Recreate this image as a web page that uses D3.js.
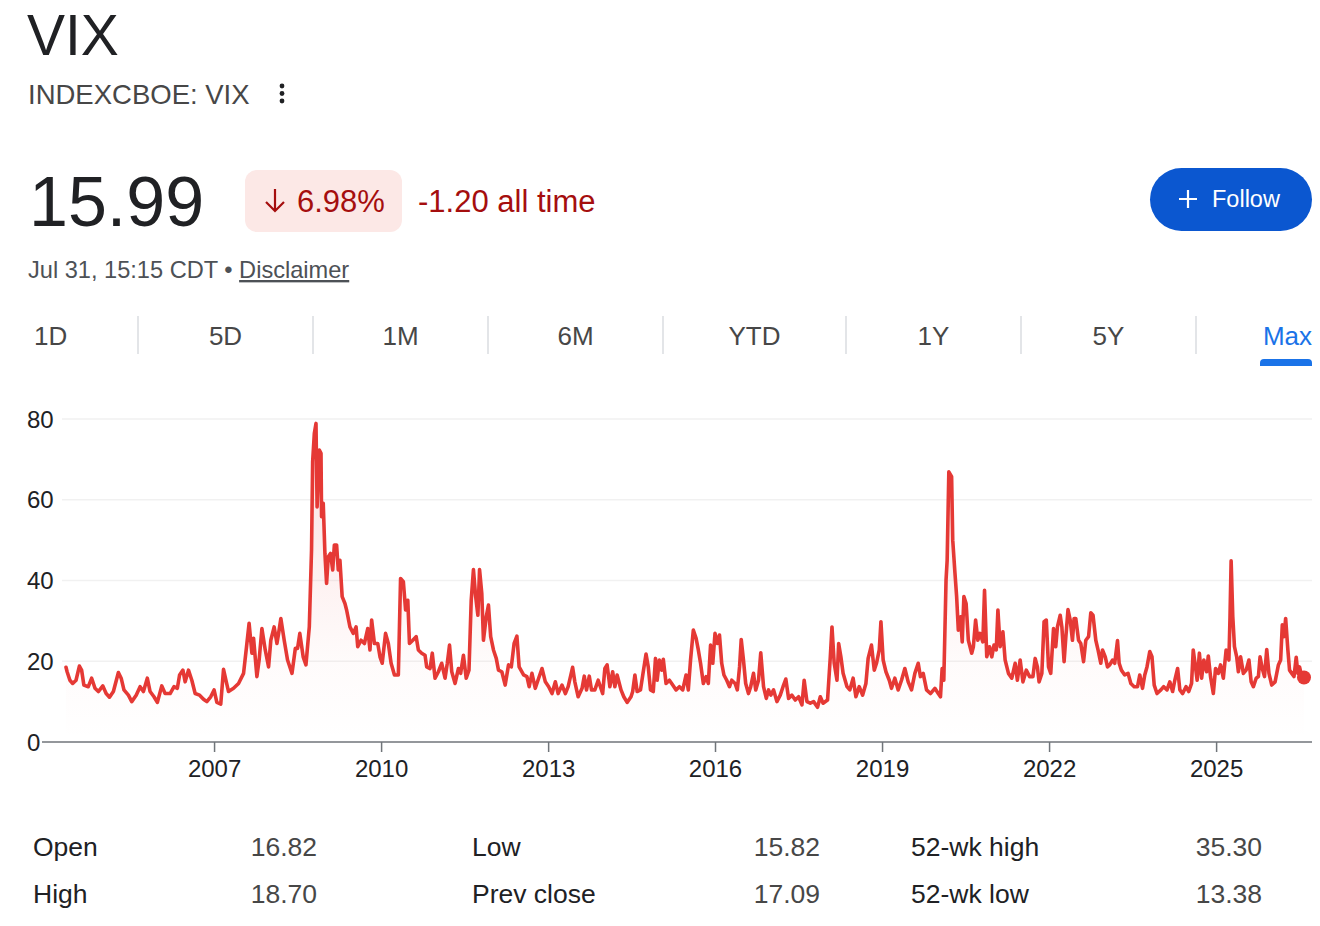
<!DOCTYPE html>
<html>
<head>
<meta charset="utf-8">
<script src="https://cdn.jsdelivr.net/npm/d3@7"></script>
<style>
  body { margin: 0; background: #fff; }
  svg { display: block; font-family: "Liberation Sans", Arial, sans-serif; }
</style>
</head>
<body>
<svg width="1320" height="926"></svg>
<script>
// weekly VIX closes (decimal year, value)
const years = [
  2004.34, 2004.36, 2004.41, 2004.46, 2004.52, 2004.58, 2004.62, 2004.66, 2004.74, 2004.80,
  2004.86, 2004.92, 2005.00, 2005.06, 2005.12, 2005.19, 2005.28, 2005.33, 2005.38, 2005.46,
  2005.52, 2005.60, 2005.67, 2005.73, 2005.80, 2005.85, 2005.92, 2005.98, 2006.06, 2006.12,
  2006.21, 2006.28, 2006.34, 2006.38, 2006.44, 2006.48, 2006.54, 2006.60, 2006.66, 2006.74,
  2006.81, 2006.87, 2006.94, 2007.00, 2007.05, 2007.12, 2007.17, 2007.22, 2007.26, 2007.35,
  2007.44, 2007.53, 2007.59, 2007.63, 2007.68, 2007.71, 2007.77, 2007.81, 2007.86, 2007.92,
  2007.98, 2008.02, 2008.08, 2008.13, 2008.16, 2008.20, 2008.26, 2008.32, 2008.40, 2008.46,
  2008.50, 2008.54, 2008.60, 2008.65, 2008.71, 2008.75, 2008.77, 2008.80, 2008.83, 2008.85,
  2008.89, 2008.92, 2008.93, 2008.96, 2008.99, 2009.02, 2009.05, 2009.09, 2009.13, 2009.16,
  2009.20, 2009.23, 2009.26, 2009.30, 2009.35, 2009.38, 2009.44, 2009.50, 2009.55, 2009.58,
  2009.64, 2009.70, 2009.76, 2009.80, 2009.83, 2009.88, 2009.94, 2009.98, 2010.02, 2010.08,
  2010.13, 2010.18, 2010.24, 2010.31, 2010.35, 2010.40, 2010.44, 2010.48, 2010.51, 2010.57,
  2010.63, 2010.67, 2010.73, 2010.79, 2010.82, 2010.88, 2010.92, 2010.97, 2011.03, 2011.09,
  2011.15, 2011.19, 2011.23, 2011.27, 2011.33, 2011.39, 2011.43, 2011.48, 2011.53, 2011.58,
  2011.62, 2011.66, 2011.70, 2011.74, 2011.77, 2011.81, 2011.84, 2011.89, 2011.93, 2011.97,
  2012.02, 2012.07, 2012.11, 2012.17, 2012.23, 2012.29, 2012.34, 2012.39, 2012.44, 2012.48,
  2012.56, 2012.62, 2012.66, 2012.71, 2012.77, 2012.83, 2012.89, 2012.95, 2013.01, 2013.07,
  2013.13, 2013.18, 2013.25, 2013.31, 2013.36, 2013.44, 2013.48, 2013.54, 2013.61, 2013.65,
  2013.69, 2013.74, 2013.78, 2013.84, 2013.90, 2013.98, 2014.02, 2014.06, 2014.11, 2014.16,
  2014.20, 2014.24, 2014.31, 2014.36, 2014.42, 2014.49, 2014.52, 2014.56, 2014.60, 2014.66,
  2014.71, 2014.76, 2014.80, 2014.84, 2014.89, 2014.93, 2014.96, 2015.00, 2015.04, 2015.07,
  2015.12, 2015.18, 2015.24, 2015.30, 2015.36, 2015.42, 2015.48, 2015.52, 2015.56, 2015.61,
  2015.66, 2015.70, 2015.74, 2015.79, 2015.84, 2015.88, 2015.92, 2015.96, 2016.00, 2016.04,
  2016.08, 2016.12, 2016.16, 2016.21, 2016.26, 2016.30, 2016.36, 2016.40, 2016.44, 2016.47,
  2016.51, 2016.55, 2016.60, 2016.64, 2016.69, 2016.73, 2016.78, 2016.82, 2016.87, 2016.92,
  2016.96, 2017.00, 2017.05, 2017.11, 2017.17, 2017.22, 2017.27, 2017.32, 2017.38, 2017.44,
  2017.50, 2017.56, 2017.60, 2017.65, 2017.71, 2017.77, 2017.84, 2017.89, 2017.94, 2018.02,
  2018.07, 2018.10, 2018.14, 2018.19, 2018.22, 2018.26, 2018.30, 2018.37, 2018.42, 2018.48,
  2018.53, 2018.59, 2018.65, 2018.71, 2018.75, 2018.81, 2018.86, 2018.90, 2018.95, 2018.98,
  2019.02, 2019.07, 2019.13, 2019.17, 2019.23, 2019.29, 2019.35, 2019.41, 2019.47, 2019.53,
  2019.59, 2019.65, 2019.69, 2019.74, 2019.80, 2019.87, 2019.95, 2020.01, 2020.05, 2020.08,
  2020.11, 2020.15, 2020.17, 2020.20, 2020.25, 2020.27, 2020.31, 2020.34, 2020.37, 2020.41,
  2020.44, 2020.47, 2020.51, 2020.55, 2020.61, 2020.64, 2020.68, 2020.72, 2020.76, 2020.81,
  2020.84, 2020.88, 2020.93, 2020.97, 2021.01, 2021.05, 2021.08, 2021.12, 2021.17, 2021.21,
  2021.27, 2021.33, 2021.39, 2021.43, 2021.48, 2021.53, 2021.59, 2021.65, 2021.71, 2021.75,
  2021.79, 2021.82, 2021.87, 2021.91, 2021.95, 2021.99, 2022.03, 2022.08, 2022.12, 2022.15,
  2022.20, 2022.23, 2022.27, 2022.30, 2022.34, 2022.38, 2022.42, 2022.45, 2022.48, 2022.53,
  2022.57, 2022.62, 2022.66, 2022.71, 2022.75, 2022.79, 2022.84, 2022.88, 2022.93, 2022.96,
  2023.01, 2023.05, 2023.09, 2023.14, 2023.18, 2023.23, 2023.26, 2023.30, 2023.36, 2023.42,
  2023.47, 2023.53, 2023.59, 2023.63, 2023.68, 2023.72, 2023.76, 2023.81, 2023.85, 2023.89,
  2023.94, 2024.01, 2024.06, 2024.12, 2024.17, 2024.22, 2024.26, 2024.31, 2024.35, 2024.40,
  2024.46, 2024.51, 2024.56, 2024.59, 2024.63, 2024.66, 2024.70, 2024.74, 2024.78, 2024.83,
  2024.86, 2024.90, 2024.95, 2024.99, 2025.04, 2025.08, 2025.13, 2025.18, 2025.23, 2025.25,
  2025.27, 2025.30, 2025.33, 2025.37, 2025.40, 2025.44, 2025.49, 2025.54, 2025.59, 2025.63,
  2025.67, 2025.72, 2025.76, 2025.79, 2025.83, 2025.87, 2025.91, 2025.95, 2026.00, 2026.06,
  2026.12, 2026.16, 2026.19, 2026.22, 2026.25, 2026.29, 2026.32, 2026.36, 2026.40, 2026.44,
  2026.47, 2026.50, 2026.54, 2026.58
];
const vix = [
  18.5, 17.4, 15.3, 14.5, 15.3, 18.8, 17.8, 14.1, 13.7, 15.8,
  13.3, 12.5, 13.9, 12.0, 11.1, 12.5, 17.2, 15.8, 12.9, 11.6,
  10.0, 11.6, 13.7, 12.5, 15.8, 12.5, 11.2, 9.8, 13.9, 12.0,
  12.0, 13.7, 13.3, 16.6, 17.8, 14.9, 17.8, 15.3, 12.0, 11.6,
  10.6, 10.0, 11.2, 12.9, 9.8, 9.4, 18.0, 14.9, 12.5, 13.3,
  14.5, 17.0, 24.4, 29.4, 22.0, 25.7, 16.2, 20.3, 28.1, 22.8,
  18.6, 25.2, 28.5, 24.4, 26.9, 30.6, 25.2, 20.3, 17.0, 23.2,
  23.2, 26.9, 21.1, 19.1, 28.5, 47.5, 69.4, 76.4, 78.9, 58.2,
  72.3, 71.5, 55.8, 59.1, 46.7, 39.3, 45.9, 46.7, 42.6, 48.8,
  48.8, 42.6, 45.0, 36.0, 34.3, 32.7, 28.5, 26.9, 28.5, 23.6,
  25.2, 24.4, 28.1, 22.8, 30.2, 24.4, 24.4, 21.1, 19.5, 26.9,
  24.4, 19.5, 16.6, 16.6, 40.5, 39.7, 32.7, 35.1, 24.4, 25.2,
  26.1, 22.8, 22.0, 21.5, 18.6, 18.2, 22.0, 15.8, 17.4, 19.5,
  15.8, 19.5, 24.0, 17.4, 14.5, 18.2, 17.0, 21.5, 15.8, 17.8,
  35.1, 42.7, 36.0, 31.4, 42.7, 36.8, 25.2, 31.0, 33.9, 26.1,
  22.8, 20.7, 17.8, 17.4, 14.1, 19.1, 18.6, 24.4, 26.2, 18.6,
  16.6, 16.2, 13.7, 17.0, 13.3, 15.8, 18.2, 14.9, 13.7, 12.0,
  14.9, 12.0, 14.1, 12.0, 13.7, 18.5, 14.9, 11.2, 13.3, 16.3,
  12.9, 16.3, 12.9, 12.9, 15.3, 12.0, 18.2, 19.1, 13.7, 17.4,
  13.7, 16.6, 12.9, 11.2, 9.8, 11.2, 12.5, 16.6, 12.5, 12.9,
  17.4, 21.8, 18.6, 12.9, 12.5, 20.7, 15.3, 20.3, 17.8, 20.5,
  14.5, 15.3, 14.1, 12.9, 13.7, 12.9, 16.6, 12.9, 20.3, 27.7,
  25.7, 22.8, 19.5, 14.5, 16.2, 14.5, 24.0, 19.5, 26.9, 24.4,
  26.5, 19.5, 16.6, 15.3, 13.7, 15.3, 14.5, 12.9, 18.6, 25.4,
  20.3, 14.5, 12.0, 13.7, 17.0, 12.9, 15.3, 22.1, 13.7, 10.8,
  12.9, 11.6, 12.9, 10.0, 11.6, 13.7, 15.6, 10.8, 11.6, 10.4,
  11.2, 9.2, 15.3, 10.0, 9.6, 10.0, 8.6, 11.2, 9.6, 10.4,
  21.1, 28.5, 19.5, 15.3, 24.4, 21.1, 17.0, 13.7, 12.9, 15.8,
  11.2, 13.7, 11.6, 14.5, 20.7, 24.0, 17.8, 19.5, 22.8, 29.8,
  20.3, 17.4, 15.3, 13.3, 15.8, 12.9, 15.3, 18.2, 14.9, 12.9,
  17.0, 19.5, 16.2, 17.0, 12.9, 12.0, 13.3, 12.0, 11.2, 18.2,
  15.3, 40.1, 45.0, 66.9, 65.7, 50.0, 41.8, 36.0, 27.7, 31.0,
  24.8, 36.0, 34.3, 25.2, 22.0, 23.6, 30.2, 25.2, 26.9, 24.8,
  37.6, 21.1, 23.6, 21.1, 24.0, 22.8, 32.7, 23.6, 27.3, 20.3,
  17.0, 15.8, 19.5, 15.3, 20.3, 14.9, 17.8, 16.2, 16.2, 20.7,
  18.6, 14.9, 17.0, 29.8, 30.2, 18.6, 17.0, 28.1, 23.6, 28.5,
  31.4, 28.5, 19.9, 25.7, 32.8, 30.2, 25.2, 30.6, 30.6, 25.2,
  24.4, 19.9, 25.2, 26.1, 32.0, 31.4, 25.2, 22.8, 19.5, 22.8,
  21.1, 18.6, 19.1, 20.3, 19.5, 25.1, 19.5, 17.8, 16.6, 17.0,
  14.5, 13.7, 13.7, 16.6, 13.3, 16.6, 18.6, 22.4, 21.1, 14.1,
  12.0, 12.9, 13.7, 12.9, 14.9, 12.5, 15.3, 18.2, 12.9, 12.0,
  13.7, 12.5, 14.5, 22.8, 18.6, 15.3, 22.0, 15.8, 20.3, 17.4,
  21.3, 16.2, 12.0, 18.2, 17.0, 19.1, 15.8, 22.8, 20.3, 31.0,
  44.9, 31.0, 23.6, 21.1, 17.4, 21.1, 17.0, 17.8, 20.3, 14.9,
  13.7, 15.8, 16.2, 21.1, 18.2, 16.2, 22.9, 17.0, 14.1, 14.9,
  19.1, 20.3, 29.0, 26.1, 30.6, 22.8, 17.8, 17.0, 16.2, 21.0,
  17.0, 18.6, 16.2, 15.99
];
const yTicks = [0, 20, 40, 60, 80];
const xTickYears = [2007, 2010, 2013, 2016, 2019, 2022, 2025];
const ranges = ["1D", "5D", "1M", "6M", "YTD", "1Y", "5Y", "Max"];
const statLabels = [["Open", "High"], ["Low", "Prev close"], ["52-wk high", "52-wk low"]];
const statValues = [["16.82", "18.70"], ["15.82", "17.09"], ["35.30", "13.38"]];
const price = "15.99";
const changePct = "6.98%";
const changeAll = "-1.20 all time";

const svg = d3.select("svg");
const red = "#e53935";
const darkRed = "#a50e0e";

function decToDate(y) {
    const yr = Math.floor(y);
    const a = new Date(yr, 0, 1), b = new Date(yr + 1, 0, 1);
    return new Date(+a + (y - yr) * (b - a));
}

const data = years.map((t, i) => ({ date: decToDate(t), v: vix[i] }));

// ---- header
svg.append("text").attr("x", 27).attr("y", 55)
    .attr("font-size", 57).attr("fill", "#202124").text("VIX");

svg.append("text").attr("x", 28).attr("y", 104)
    .attr("font-size", 27.5).attr("fill", "#474747").text("INDEXCBOE: VIX");

svg.selectAll(".dot").data([86, 93.5, 101]).join("circle")
    .attr("cx", 282).attr("cy", d => d).attr("r", 2.4).attr("fill", "#202124");

svg.append("text").attr("x", 29).attr("y", 226)
    .attr("font-size", 70).attr("fill", "#202124").text(price);

svg.append("rect").attr("x", 245).attr("y", 170).attr("width", 157).attr("height", 62)
    .attr("rx", 12).attr("fill", "#fce8e6");
svg.append("path").attr("d", "M275,189V211M266,202L275,211L284,202")
    .attr("fill", "none").attr("stroke", darkRed).attr("stroke-width", 2.2);
svg.append("text").attr("x", 297).attr("y", 212)
    .attr("font-size", 31).attr("fill", darkRed).text(changePct);
svg.append("text").attr("x", 418).attr("y", 212)
    .attr("font-size", 31).attr("fill", darkRed).text(changeAll);

svg.append("rect").attr("x", 1150).attr("y", 168).attr("width", 162).attr("height", 63)
    .attr("rx", 31.5).attr("fill", "#0b57d0");
svg.append("path").attr("d", "M1188,190V208M1179,199H1197")
    .attr("stroke", "#fff").attr("stroke-width", 2.2);
svg.append("text").attr("x", 1212).attr("y", 207)
    .attr("font-size", 23.5).attr("fill", "#fff").text("Follow");

const stamp = svg.append("text").attr("x", 28).attr("y", 278)
    .attr("font-size", 23.6).attr("fill", "#4d5156");
stamp.append("tspan").text("Jul 31, 15:15 CDT • ");
stamp.append("tspan").attr("text-decoration", "underline").text("Disclaimer");

// ---- range tabs
const seps = [138, 313, 488, 663, 846, 1021, 1196];
svg.selectAll(".sep").data(seps).join("line")
    .attr("x1", d => d).attr("x2", d => d).attr("y1", 316).attr("y2", 354)
    .attr("stroke", "#dadce0").attr("stroke-width", 1.5);
const edges = [28].concat(seps, [1312]);
svg.selectAll(".tab").data(ranges).join("text")
    .attr("x", (d, i) => i === 0 ? 34 : i === ranges.length - 1 ? 1312 : (edges[i] + edges[i + 1]) / 2)
    .attr("y", 345)
    .attr("text-anchor", (d, i) => i === 0 ? "start" : i === ranges.length - 1 ? "end" : "middle")
    .attr("font-size", 26)
    .attr("fill", (d, i) => i === ranges.length - 1 ? "#1a73e8" : "#474747")
    .text(d => d);
svg.append("path").attr("d", "M1260,366V363Q1260,359 1264,359H1308Q1312,359 1312,363V366Z")
    .attr("fill", "#1a73e8");

// ---- chart
const x = d3.scaleTime()
    .domain([decToDate(2004.34), decToDate(2026.58)])
    .range([66, 1304]);
const y = d3.scaleLinear().domain([0, 80]).range([742, 419]);

const grid = svg.append("g");
grid.selectAll("line").data(yTicks.filter(d => d > 0)).join("line")
    .attr("x1", 62).attr("x2", 1312)
    .attr("y1", d => y(d)).attr("y2", d => y(d))
    .attr("stroke", "#f1f1f1").attr("stroke-width", 1.5);
svg.append("g").selectAll("text").data(yTicks).join("text")
    .attr("x", 27).attr("y", d => y(d)).attr("dy", "0.36em")
    .attr("font-size", 24).attr("fill", "#202124")
    .text(d => d);

const defs = svg.append("defs");
const grad = defs.append("linearGradient").attr("id", "fade")
    .attr("gradientUnits", "userSpaceOnUse")
    .attr("x1", 0).attr("x2", 0).attr("y1", y(80)).attr("y2", y(0));
grad.append("stop").attr("offset", "0%").attr("stop-color", red).attr("stop-opacity", 0.16);
grad.append("stop").attr("offset", "75%").attr("stop-color", red).attr("stop-opacity", 0.02);
grad.append("stop").attr("offset", "100%").attr("stop-color", red).attr("stop-opacity", 0);

svg.append("path").datum(data)
    .attr("fill", "url(#fade)")
    .attr("d", d3.area().x(d => x(d.date)).y0(y(0)).y1(d => y(d.v)));

svg.append("path").datum(data)
    .attr("fill", "none").attr("stroke", red).attr("stroke-width", 3.6)
    .attr("stroke-linejoin", "round").attr("stroke-linecap", "round")
    .attr("d", d3.line().x(d => x(d.date)).y(d => y(d.v)));

const last = data[data.length - 1];
svg.append("circle").attr("cx", x(last.date)).attr("cy", y(last.v))
    .attr("r", 7).attr("fill", red);

// x axis
svg.append("line").attr("x1", 42).attr("x2", 1312).attr("y1", y(0)).attr("y2", y(0))
    .attr("stroke", "#70757a").attr("stroke-width", 1.5);
const axis = d3.axisBottom(x)
    .tickValues(xTickYears.map(yr => new Date(yr, 0, 1)))
    .tickFormat(d3.timeFormat("%Y"))
    .tickSize(10).tickPadding(8);
const ax = svg.append("g").attr("transform", `translate(0,${y(0)})`).call(axis);
ax.select(".domain").remove();
ax.selectAll(".tick line").attr("stroke", "#70757a").attr("stroke-width", 1.5);
ax.selectAll(".tick text").attr("font-size", 24).attr("fill", "#202124")
    .attr("font-family", "'Liberation Sans', Arial, sans-serif");

// ---- stats
const colLabelX = [33, 472, 911];
const colValueX = [317, 820, 1262];
const rowY = [856, 903];
statLabels.forEach((col, c) => {
    col.forEach((lab, r) => {
        svg.append("text").attr("x", colLabelX[c]).attr("y", rowY[r])
            .attr("font-size", 26.5).attr("fill", "#202124").text(lab);
        svg.append("text").attr("x", colValueX[c]).attr("y", rowY[r])
            .attr("text-anchor", "end")
            .attr("font-size", 26.5).attr("fill", "#474747").text(statValues[c][r]);
    });
});
</script>
</body>
</html>
